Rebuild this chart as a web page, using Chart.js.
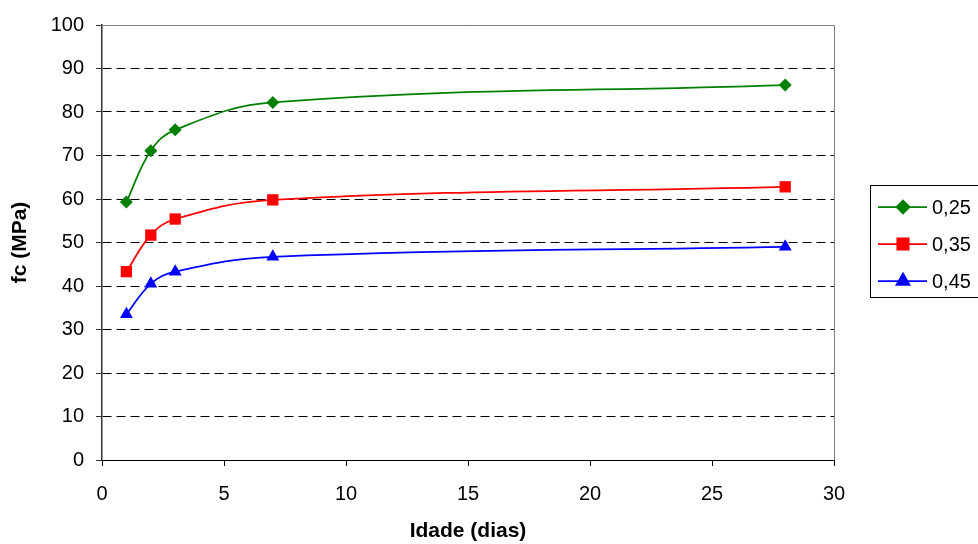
<!DOCTYPE html>
<html>
<head>
<meta charset="utf-8">
<script src="https://cdn.jsdelivr.net/npm/chart.js@4/dist/chart.umd.min.js"></script>
<style>
    html, body { margin: 0; padding: 0; background: #fff; }
    #fcChart { display: block; }
</style>
</head>
<body>
<canvas id="fcChart" width="978" height="544"></canvas>
<script>
// Data
const idade = [1, 2, 3, 7, 28];
const fc025 = [59.3, 71.1, 75.9, 82.2, 86.2];
const fc035 = [43.3, 51.7, 55.4, 59.8, 62.8];
const fc045 = [33.5, 40.5, 43.3, 46.7, 49.0];
const seriesLabels = ['0,25', '0,35', '0,45'];
const xTicks = [0, 5, 10, 15, 20, 25, 30];
const yTicks = [0, 10, 20, 30, 40, 50, 60, 70, 80, 90, 100];

const FONT = '"Liberation Sans", Arial, sans-serif';

function toPoints(values) {
    return values.map((v, i) => ({ x: idade[i], y: v }));
}

// Plot border (gray top/right) + boxed legend on the right
const excelLook = {
    id: 'excelLook',
    afterDraw(chart) {
        const ctx = chart.ctx;
        const a = chart.chartArea;
        ctx.save();
        ctx.strokeStyle = '#808080';
        ctx.lineWidth = 1;
        ctx.setLineDash([]);
        ctx.beginPath();
        ctx.moveTo(a.left, a.top + 0.5);
        ctx.lineTo(a.right + 0.5, a.top + 0.5);
        ctx.lineTo(a.right + 0.5, a.bottom);
        ctx.stroke();

        // legend box
        const boxX = 870.5, boxY = 185.5, boxW = 120, boxH = 112;
        ctx.strokeStyle = '#000';
        ctx.strokeRect(boxX, boxY, boxW, boxH);

        const rows = [207, 244, 281];
        chart.data.datasets.forEach((ds, i) => {
            const y = rows[i];
            ctx.strokeStyle = ds.borderColor;
            ctx.lineWidth = 1.75;
            ctx.beginPath();
            ctx.moveTo(878, y);
            ctx.lineTo(927, y);
            ctx.stroke();
            Chart.helpers.drawPoint(ctx, {
                pointStyle: ds.pointStyle,
                radius: ds.pointRadius,
                borderWidth: 1
            }, 903, y);
            ctx.fillStyle = ds.backgroundColor;
            ctx.fill();
            ctx.fillStyle = '#000';
            ctx.font = '20px ' + FONT;
            ctx.textBaseline = 'middle';
            ctx.textAlign = 'left';
            ctx.fillText(ds.label, 932, y + 1);
        });
        ctx.restore();
    }
};

const ctx = document.getElementById('fcChart').getContext('2d');
const chart = new Chart(ctx, {
    type: 'line',
    data: {
        datasets: [
            {
                label: seriesLabels[0],
                data: toPoints(fc025),
                borderColor: '#008000',
                backgroundColor: '#008000',
                pointStyle: 'rectRot',
                pointRadius: 6.5
            },
            {
                label: seriesLabels[1],
                data: toPoints(fc035),
                borderColor: '#ff0000',
                backgroundColor: '#ff0000',
                pointStyle: 'rect',
                pointRadius: 8
            },
            {
                label: seriesLabels[2],
                data: toPoints(fc045),
                borderColor: '#0000ff',
                backgroundColor: '#0000ff',
                pointStyle: 'triangle',
                pointRadius: 7.5
            }
        ]
    },
    options: {
        responsive: false,
        animation: false,
        devicePixelRatio: 1,
        layout: { padding: { top: 25, right: 144, left: 0, bottom: 0 } },
        elements: {
            line: { borderWidth: 1.75, tension: 0.4, fill: false },
            point: { borderWidth: 0, hoverRadius: 7 }
        },
        plugins: {
            legend: { display: false },
            tooltip: { enabled: false }
        },
        scales: {
            x: {
                type: 'linear',
                min: 0,
                max: 30,
                afterFit: scale => { scale.height = 84; },
                afterBuildTicks: scale => { scale.ticks = xTicks.map(v => ({ value: v })); },
                grid: {
                    drawOnChartArea: false,
                    tickLength: 6,
                    tickColor: '#000'
                },
                border: { color: '#000', width: 1 },
                ticks: {
                    color: '#000',
                    padding: 16,
                    maxRotation: 0,
                    font: { family: FONT, size: 20 }
                },
                title: {
                    display: true,
                    text: 'Idade (dias)',
                    color: '#000',
                    padding: { top: 0, bottom: 0 },
                    font: { family: FONT, size: 21, weight: 'bold' }
                }
            },
            y: {
                min: 0,
                max: 100,
                afterFit: scale => { scale.width = 102; },
                afterBuildTicks: scale => { scale.ticks = yTicks.map(v => ({ value: v })); },
                grid: {
                    color: '#000',
                    lineWidth: 1,
                    tickLength: 6,
                    tickColor: '#333'
                },
                border: { color: '#333', width: 1.5, dash: [9, 5] },
                ticks: {
                    color: '#000',
                    padding: 12,
                    font: { family: FONT, size: 20 }
                },
                title: {
                    display: true,
                    text: 'fc (MPa)',
                    color: '#000',
                    padding: { top: 8, bottom: 0 },
                    font: { family: FONT, size: 21, weight: 'bold' }
                }
            }
        }
    },
    plugins: [excelLook]
});
</script>
</body>
</html>
